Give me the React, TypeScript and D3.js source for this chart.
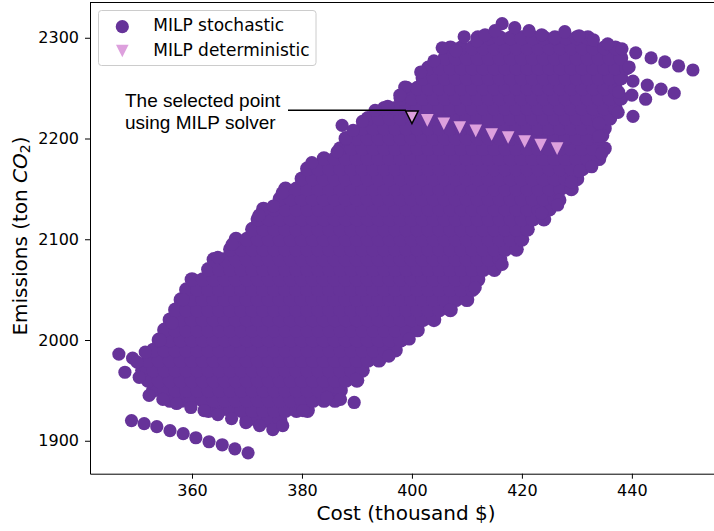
import React, { useEffect, useRef } from 'react';
import * as d3 from 'd3';

const xTicks = [360, 380, 400, 420, 440];
const yTicks = [1900, 2000, 2100, 2200, 2300];

// the solid part of the cloud, one list of costs per emission level
const cloudEmissions = [
  1920, 1930, 1940, 1950, 1960, 1970, 1980, 1990, 2000, 2010, 2020, 2030, 2040,
  2050, 2060, 2070, 2080, 2090, 2100, 2110, 2120, 2130, 2140, 2150, 2160, 2170,
  2180, 2190, 2200, 2210, 2220, 2230, 2240, 2250, 2260, 2270, 2280, 2290, 2300,
];
const cloudCosts = [
  [370, 372, 374, 376],
  [363, 365, 367, 369, 371, 373, 375, 377, 379, 381],
  [356, 358, 360, 362, 364, 366, 368, 370, 372, 374, 376, 378, 380, 382, 384, 386],
  [353, 355, 357, 359, 361, 363, 365, 367, 369, 371, 373, 375, 377, 379, 381, 383, 385, 387],
  [352, 354, 356, 358, 360, 362, 364, 366, 368, 370, 372, 374, 376, 378, 380, 382, 384, 386, 388, 390],
  [351, 353, 355, 357, 359, 361, 363, 365, 367, 369, 371, 373, 375, 377, 379, 381, 383, 385, 387, 389, 391],
  [352, 354, 356, 358, 360, 362, 364, 366, 368, 370, 372, 374, 376, 378, 380, 382, 384, 386, 388, 390, 392, 394],
  [353, 355, 357, 359, 361, 363, 365, 367, 369, 371, 373, 375, 377, 379, 381, 383, 385, 387, 389, 391, 393, 395, 397],
  [354, 356, 358, 360, 362, 364, 366, 368, 370, 372, 374, 376, 378, 380, 382, 384, 386, 388, 390, 392, 394, 396, 398],
  [355, 357, 359, 361, 363, 365, 367, 369, 371, 373, 375, 377, 379, 381, 383, 385, 387, 389, 391, 393, 395, 397, 399, 401],
  [356, 358, 360, 362, 364, 366, 368, 370, 372, 374, 376, 378, 380, 382, 384, 386, 388, 390, 392, 394, 396, 398, 400, 402, 404],
  [357, 359, 361, 363, 365, 367, 369, 371, 373, 375, 377, 379, 381, 383, 385, 387, 389, 391, 393, 395, 397, 399, 401, 403, 405, 407],
  [358, 360, 362, 364, 366, 368, 370, 372, 374, 376, 378, 380, 382, 384, 386, 388, 390, 392, 394, 396, 398, 400, 402, 404, 406, 408, 410],
  [359, 361, 363, 365, 367, 369, 371, 373, 375, 377, 379, 381, 383, 385, 387, 389, 391, 393, 395, 397, 399, 401, 403, 405, 407, 409, 411],
  [360, 362, 364, 366, 368, 370, 372, 374, 376, 378, 380, 382, 384, 386, 388, 390, 392, 394, 396, 398, 400, 402, 404, 406, 408, 410, 412],
  [363, 365, 367, 369, 371, 373, 375, 377, 379, 381, 383, 385, 387, 389, 391, 393, 395, 397, 399, 401, 403, 405, 407, 409, 411, 413, 415],
  [364, 366, 368, 370, 372, 374, 376, 378, 380, 382, 384, 386, 388, 390, 392, 394, 396, 398, 400, 402, 404, 406, 408, 410, 412, 414, 416],
  [367, 369, 371, 373, 375, 377, 379, 381, 383, 385, 387, 389, 391, 393, 395, 397, 399, 401, 403, 405, 407, 409, 411, 413, 415, 417, 419],
  [368, 370, 372, 374, 376, 378, 380, 382, 384, 386, 388, 390, 392, 394, 396, 398, 400, 402, 404, 406, 408, 410, 412, 414, 416, 418, 420],
  [371, 373, 375, 377, 379, 381, 383, 385, 387, 389, 391, 393, 395, 397, 399, 401, 403, 405, 407, 409, 411, 413, 415, 417, 419, 421],
  [372, 374, 376, 378, 380, 382, 384, 386, 388, 390, 392, 394, 396, 398, 400, 402, 404, 406, 408, 410, 412, 414, 416, 418, 420, 422, 424],
  [373, 375, 377, 379, 381, 383, 385, 387, 389, 391, 393, 395, 397, 399, 401, 403, 405, 407, 409, 411, 413, 415, 417, 419, 421, 423, 425],
  [376, 378, 380, 382, 384, 386, 388, 390, 392, 394, 396, 398, 400, 402, 404, 406, 408, 410, 412, 414, 416, 418, 420, 422, 424, 426],
  [377, 379, 381, 383, 385, 387, 389, 391, 393, 395, 397, 399, 401, 403, 405, 407, 409, 411, 413, 415, 417, 419, 421, 423, 425, 427, 429],
  [380, 382, 384, 386, 388, 390, 392, 394, 396, 398, 400, 402, 404, 406, 408, 410, 412, 414, 416, 418, 420, 422, 424, 426, 428, 430],
  [381, 383, 385, 387, 389, 391, 393, 395, 397, 399, 401, 403, 405, 407, 409, 411, 413, 415, 417, 419, 421, 423, 425, 427, 429, 431],
  [384, 386, 388, 390, 392, 394, 396, 398, 400, 402, 404, 406, 408, 410, 412, 414, 416, 418, 420, 422, 424, 426, 428, 430, 432, 434],
  [387, 389, 391, 393, 395, 397, 399, 401, 403, 405, 407, 409, 411, 413, 415, 417, 419, 421, 423, 425, 427, 429, 431, 433, 435],
  [388, 390, 392, 394, 396, 398, 400, 402, 404, 406, 408, 410, 412, 414, 416, 418, 420, 422, 424, 426, 428, 430, 432, 434],
  [391, 393, 395, 397, 399, 401, 403, 405, 407, 409, 411, 413, 415, 417, 419, 421, 423, 425, 427, 429, 431, 433, 435],
  [392, 394, 396, 398, 400, 402, 404, 406, 408, 410, 412, 414, 416, 418, 420, 422, 424, 426, 428, 430, 432, 434, 436],
  [395, 397, 399, 401, 403, 405, 407, 409, 411, 413, 415, 417, 419, 421, 423, 425, 427, 429, 431, 433, 435, 437],
  [398, 400, 402, 404, 406, 408, 410, 412, 414, 416, 418, 420, 422, 424, 426, 428, 430, 432, 434, 436, 438],
  [399, 401, 403, 405, 407, 409, 411, 413, 415, 417, 419, 421, 423, 425, 427, 429, 431, 433, 435, 437],
  [402, 404, 406, 408, 410, 412, 414, 416, 418, 420, 422, 424, 426, 428, 430, 432, 434, 436, 438],
  [403, 405, 407, 409, 411, 413, 415, 417, 419, 421, 423, 425, 427, 429, 431, 433, 435, 437, 439],
  [406, 408, 410, 412, 414, 416, 418, 420, 422, 424, 426, 428, 430, 432, 434, 436, 438],
  [407, 409, 411, 413, 415, 417, 419, 421, 423, 425, 427, 429, 431, 433, 435, 437],
  [412, 414, 416, 418, 420, 422, 424, 426, 428, 430, 432],
];

// points around the rim and the stragglers, read one by one
const rimCost = [
  346.7, 349.2, 350, 347.8, 350.4, 351.5, 352.2, 354.7, 357.2, 359.8, 362.2, 364.7, 367.2, 369.8, 372.3, 374.7, 376.5, 380.2, 384.5, 387, 389.5,
  349, 351.3, 353.6, 356, 358.4, 360.7, 363.1, 365.5, 367.8, 370.2,
  416.4, 418.7, 421.3, 423.6, 426, 427.8, 430.4, 433, 435.6, 438.2, 440.7, 443.5, 446, 448.5, 451.1, 439.5,
  440.2, 442.8, 445.3, 447.7, 440, 442.5, 437.6, 440.2, 437.5, 434, 434.7, 434, 434.5, 432.7, 430.5, 429, 426.9, 426.5, 423.6,
  416.4, 411.5, 406.9, 399.5, 395.8, 389.8,
  387.3, 388, 386.4, 381.8, 376.4, 374.8, 372.2, 367.3, 364.7, 358.4, 356.4, 354.2,
  401.6, 398.7, 397.8, 404, 405.5, 408, 409.5, 411.8, 413.3, 415.1, 395.6, 393.3, 391, 389.3,
];
const rimEmission = [
  1986, 1982, 1978, 1968, 1963, 1988, 1945, 1941, 1937, 1933, 1930, 1926, 1922, 1918, 1915, 1911, 1915, 1930, 1943, 1941, 1938,
  1920, 1917, 1914, 1910, 1907, 1903, 1899, 1896, 1892, 1888,
  2314, 2310, 2307, 2303, 2300, 2306, 2302, 2298, 2294, 2289, 2285, 2280, 2276, 2272, 2268, 2271,
  2257, 2253, 2249, 2245, 2243, 2239, 2246, 2222, 2226, 2215, 2203, 2202, 2185, 2172, 2168, 2157, 2139, 2134, 2126,
  2075, 2052, 2030, 2001, 1984, 1961,
  2213, 2200, 2187, 2176, 2146, 2133, 2124, 2095, 2082, 2040, 2017, 2000,
  2266, 2251, 2243, 2277, 2290, 2287, 2301, 2297, 2303, 2307, 2232, 2228, 2217, 2208,
];

const deterministicCost = [400, 402.8, 405.8, 408.7, 411.6, 414.5, 417.5, 420.5, 423.4, 426.4];
const deterministicEmission = [2221, 2218, 2214.6, 2211, 2207.6, 2204, 2201, 2197, 2193.6, 2190];

const purple = '#663399';
const plum = '#dda0dd';
const sans = '"DejaVu Sans", sans-serif';

export default function App() {
  const ref = useRef<SVGSVGElement | null>(null);

  useEffect(() => {
    const svg = d3.select(ref.current);
    svg.selectAll('*').remove();

    const x = d3.scaleLinear().domain([341.45, 455.3]).range([90, 716]);
    const y = d3.scaleLinear().domain([1867.3, 2335]).range([473.7, 2.5]);

    const cloud = cloudEmissions.flatMap((e, i) => cloudCosts[i].map((c) => [c, e]));
    const rim = rimCost.map((c, i) => [c, rimEmission[i]]);

    const triangle = 'M-6.3,-6.3L6.3,-6.3L0,6.3Z';

    // cloud dots a bit bigger so the seams between them close up
    svg
      .append('g')
      .selectAll('circle')
      .data(cloud)
      .enter()
      .append('circle')
      .attr('cx', (d) => x(d[0]))
      .attr('cy', (d) => y(d[1]))
      .attr('r', 7.4)
      .style('fill', purple);

    svg
      .append('g')
      .selectAll('circle')
      .data(rim)
      .enter()
      .append('circle')
      .attr('cx', (d) => x(d[0]))
      .attr('cy', (d) => y(d[1]))
      .attr('r', 6.6)
      .style('fill', purple);

    svg
      .append('g')
      .selectAll('path')
      .data(deterministicCost)
      .enter()
      .append('path')
      .attr('d', triangle)
      .attr('transform', (d, i) => 'translate(' + x(d) + ',' + y(deterministicEmission[i]) + ')')
      .style('fill', plum)
      .style('stroke', (d, i) => (i === 0 ? 'black' : 'none'))
      .style('stroke-width', 1.5);

    // annotation leader runs along the top of the selected marker
    const leaderY = y(deterministicEmission[0]) - 7;
    svg
      .append('line')
      .attr('x1', 288)
      .attr('x2', x(deterministicCost[0]) - 6)
      .attr('y1', leaderY)
      .attr('y2', leaderY)
      .style('stroke', 'black')
      .style('stroke-width', 1.5);

    const note = svg
      .append('text')
      .style('font-family', '"Liberation Sans", Arial, sans-serif')
      .style('font-size', '19px')
      .style('fill', 'black');
    note.append('tspan').attr('x', 125).attr('y', 107).text('The selected point');
    note.append('tspan').attr('x', 125).attr('y', 129).text('using MILP solver');

    const xAxis = d3.axisBottom(x).tickValues(xTicks).tickSizeInner(5).tickSizeOuter(0).tickPadding(6).tickFormat(d3.format('d'));
    const yAxis = d3.axisLeft(y).tickValues(yTicks).tickSizeInner(5).tickSizeOuter(0).tickPadding(6).tickFormat(d3.format('d'));

    const xG = svg.append('g').attr('transform', 'translate(0,473.7)').call(xAxis);
    const yG = svg.append('g').attr('transform', 'translate(90,0)').call(yAxis);
    [xG, yG].forEach((g) => {
      g.selectAll('text').style('font-family', sans).style('font-size', '16px').style('fill', '#000');
      g.selectAll('line').style('stroke', '#000').style('stroke-width', 1);
      g.select('.domain').style('stroke', '#000').style('stroke-width', 1);
    });

    svg
      .append('line')
      .attr('x1', 90)
      .attr('x2', 714)
      .attr('y1', 2.5)
      .attr('y2', 2.5)
      .style('stroke', '#000')
      .style('stroke-width', 1);

    svg
      .append('text')
      .attr('x', 406)
      .attr('y', 520)
      .style('text-anchor', 'middle')
      .style('font-family', sans)
      .style('font-size', '20px')
      .text('Cost (thousand $)');

    const yLabel = svg
      .append('text')
      .attr('transform', 'translate(27,236) rotate(-90)')
      .style('text-anchor', 'middle')
      .style('font-family', sans)
      .style('font-size', '20px');
    yLabel.append('tspan').text('Emissions (ton ');
    yLabel.append('tspan').style('font-style', 'italic').text('CO');
    yLabel.append('tspan').attr('dy', 3).style('font-size', '14px').text('2');
    yLabel.append('tspan').attr('dy', -3).text(')');

    const legend = svg.append('g');
    legend
      .append('rect')
      .attr('x', 98.5)
      .attr('y', 10.5)
      .attr('width', 217.5)
      .attr('height', 55)
      .attr('rx', 3)
      .style('fill', 'white')
      .style('stroke', '#cccccc')
      .style('stroke-width', 1);
    legend.append('circle').attr('cx', 122.3).attr('cy', 26.7).attr('r', 6.6).style('fill', purple);
    legend.append('path').attr('d', triangle).attr('transform', 'translate(122.3,51)').style('fill', plum);
    legend
      .append('text')
      .attr('x', 153.3)
      .attr('y', 31)
      .style('font-family', sans)
      .style('font-size', '17px')
      .text('MILP stochastic');
    legend
      .append('text')
      .attr('x', 153.3)
      .attr('y', 55.5)
      .style('font-family', sans)
      .style('font-size', '17px')
      .text('MILP deterministic');
  }, []);

  return (
    <svg
      ref={ref}
      width={714}
      height={531}
      style={{ position: 'absolute', left: 0, top: 0, background: 'white' }}
    />
  );
}
